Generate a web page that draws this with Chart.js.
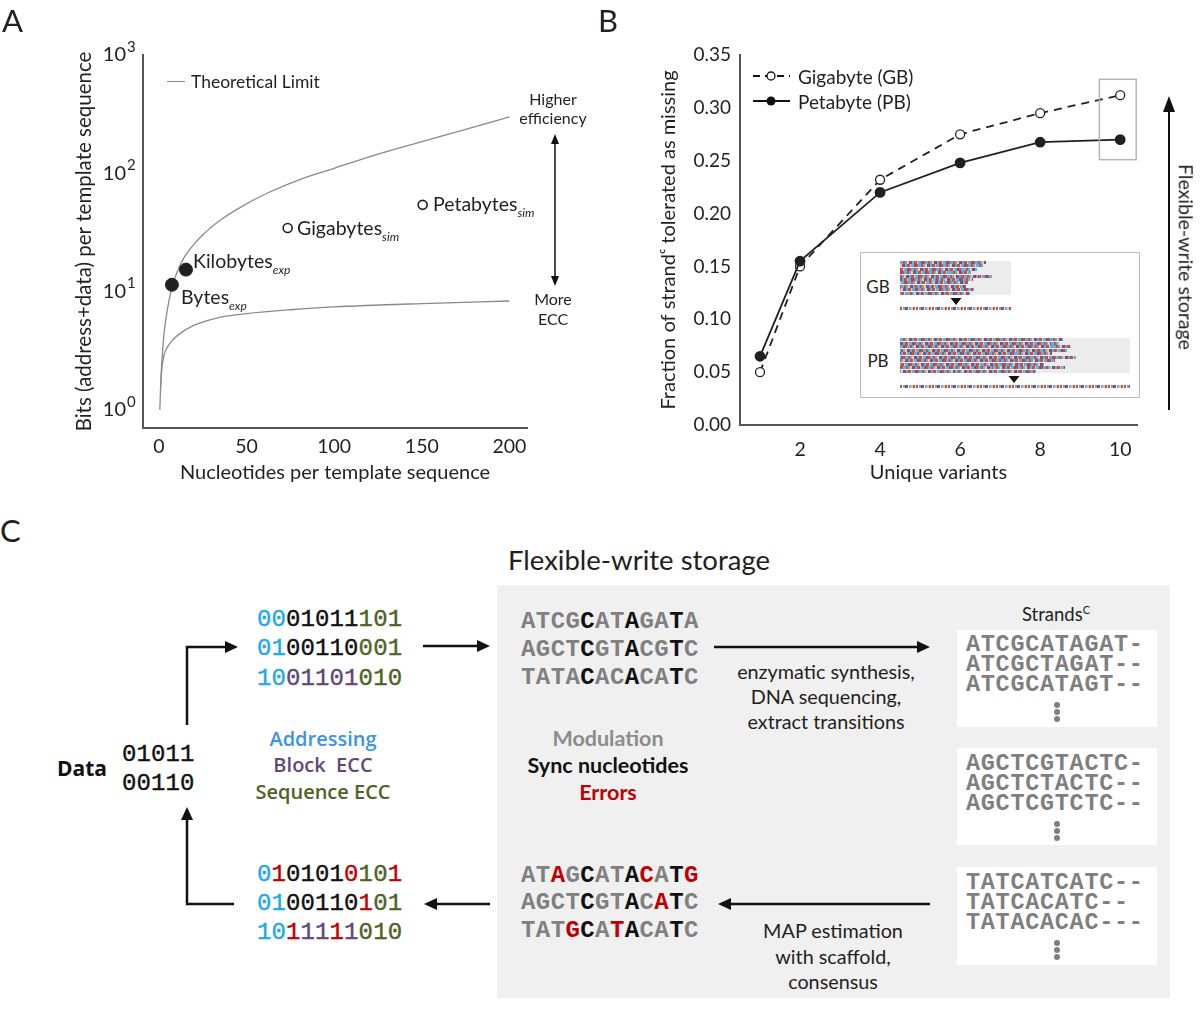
<!DOCTYPE html>
<html><head><meta charset="utf-8">
<script src="https://cdn.jsdelivr.net/npm/chart.js@4/dist/chart.umd.min.js"></script>
<style>
body{margin:0;background:#fff;}
#root{position:relative;width:1200px;height:1019px;overflow:hidden;font-family:Lato,"Open Sans",sans-serif;color:#231f20;}
.t{position:absolute;white-space:nowrap;line-height:1;}
.c{transform:translate(-50%,-50%);}
.l{transform:translate(0,-50%);}
sub{font-style:italic;font-size:12px;vertical-align:-6px;line-height:0;}
.cv{position:absolute;}
</style></head>
<body><div id="root">
<div class="cv" style="left:0;top:0"><canvas id="cA" width="600" height="500" style="width:600px;height:500px"></canvas></div>
<div class="cv" style="left:600px;top:0"><canvas id="cB" width="600" height="500" style="width:600px;height:500px"></canvas></div>
</div>
<script>
// ---------- Panel A data ----------
const upperN    = [0.6, 1, 1.5, 2, 3, 4, 6, 8, 10, 12, 15, 20, 25, 29, 35, 45, 62, 80, 100, 125, 150, 175, 200];
const upperBits = [1.0, 1.5, 2.2, 2.9, 4.4, 5.8, 8.6, 11.5, 14, 16.5, 20, 25, 30, 34, 40, 50, 68, 88, 110, 145, 185, 235, 300];
const lowerN    = [1, 1.5, 2, 3, 5, 8, 12, 18, 25, 36, 50, 75, 100, 150, 200];
const lowerBits = [1.5, 2.0, 2.4, 2.9, 3.4, 3.9, 4.4, 5.0, 5.5, 6.1, 6.5, 7.0, 7.4, 7.9, 8.3];
const expNames = ['Bytes', 'Kilobytes'];
const expN     = [7.5, 15.5];
const expBits  = [11.4, 15.3];
const simNames = ['Gigabytes', 'Petabytes'];
const simN     = [73.5, 150.5];
const simBits  = [34.4, 54];
const xTicksA = [0, 50, 100, 150, 200];
const yTicksA = [1, 10, 100, 1000];

// ---------- Panel B data ----------
const variants   = [1, 2, 4, 6, 8, 10];
const gbFraction = [0.050, 0.150, 0.232, 0.275, 0.295, 0.312];
const pbFraction = [0.065, 0.155, 0.220, 0.248, 0.2675, 0.270];
const xTicksB = [2, 4, 6, 8, 10];
const yTicksB = [0, 0.05, 0.10, 0.15, 0.20, 0.25, 0.30, 0.35];

Chart.defaults.font.family = 'Lato';
Chart.defaults.color = '#231f20';
const INK = '#231f20', AX = '#555';

const pts = (xs, ys) => xs.map((x, i) => ({x, y: ys[i]}));

const expPlugin = {id: 'exp', afterDraw(chart) {
  const s = chart.scales.y, ctx = chart.ctx;
  ctx.save(); ctx.font = '15px Lato'; ctx.fillStyle = INK; ctx.textAlign = 'left'; ctx.textBaseline = 'middle';
  s.ticks.forEach(t => ctx.fillText(String(Math.round(Math.log10(t.value))), s.right - s.options.ticks.padding + 1, s.getPixelForValue(t.value) - 8));
  ctx.restore();
}};

new Chart(document.getElementById('cA'), {
  type: 'scatter',
  data: {datasets: [
    {data: pts(expN, expBits), pointRadius: 6.5, pointBackgroundColor: INK, pointBorderColor: INK, showLine: false},
    {data: pts(simN, simBits), pointRadius: 4.5, pointBackgroundColor: '#fff', pointBorderColor: INK, pointBorderWidth: 1.6, showLine: false},
    {data: pts(upperN, upperBits), showLine: true, borderColor: '#8a8a8a', borderWidth: 1.3, pointRadius: 0, cubicInterpolationMode: 'monotone'},
    {data: pts(lowerN, lowerBits), showLine: true, borderColor: '#8a8a8a', borderWidth: 1.3, pointRadius: 0, cubicInterpolationMode: 'monotone'}
  ]},
  options: {
    responsive: false, animation: false, events: [],
    layout: {padding: {left: 72, top: 55, right: 73, bottom: 15}},
    plugins: {legend: {display: false}, tooltip: {enabled: false}},
    scales: {
      x: {type: 'linear', min: -9, max: 210,
        grid: {display: false, drawTicks: false}, border: {display: true, color: AX, width: 2},
        ticks: {padding: 7, color: INK, font: {size: 19.5}},
        afterBuildTicks: s => { s.ticks = xTicksA.map(v => ({value: v})); },
        afterFit: s => { s.height = 57; },
        title: {display: true, text: 'Nucleotides per template sequence', font: {size: 20}, color: INK, padding: 0}},
      y: {type: 'logarithmic', min: 0.736, max: 1000,
        grid: {display: false, drawTicks: false}, border: {display: true, color: AX, width: 2},
        ticks: {padding: 17, color: INK, font: {size: 20}, callback: () => '10'},
        afterBuildTicks: s => { s.ticks = yTicksA.map(v => ({value: v})); },
        afterFit: s => { s.width = 71; },
        title: {display: true, text: 'Bits (address+data) per template sequence', font: {size: 20.5}, color: INK, padding: 0}}
    }
  },
  plugins: [expPlugin]
});

const boxPlugin = {id: 'box', afterDatasetsDraw(chart) {
  const x = chart.scales.x, y = chart.scales.y, ctx = chart.ctx;
  ctx.save(); ctx.strokeStyle = '#b5b5b5'; ctx.lineWidth = 1.5;
  const x0 = x.getPixelForValue(9.48), x1 = x.getPixelForValue(10.4), y0 = y.getPixelForValue(0.327), y1 = y.getPixelForValue(0.251);
  ctx.strokeRect(x0, y0, x1 - x0, y1 - y0);
  ctx.restore();
}};

new Chart(document.getElementById('cB'), {
  type: 'line',
  data: {datasets: [
    {label: 'Petabyte (PB)', data: pts(variants, pbFraction), borderColor: INK, borderWidth: 1.8, pointRadius: 4.5, pointBackgroundColor: INK, pointBorderColor: INK, tension: 0},
    {label: 'Gigabyte (GB)', data: pts(variants, gbFraction), borderColor: INK, borderWidth: 1.8, borderDash: [8, 6], pointRadius: 4.5, pointBackgroundColor: '#fff', pointBorderColor: INK, pointBorderWidth: 1.3, tension: 0}
  ]},
  options: {
    responsive: false, animation: false, events: [],
    layout: {padding: {left: 57, top: 55, right: 63, bottom: 15}},
    plugins: {legend: {display: false}, tooltip: {enabled: false}},
    scales: {
      x: {type: 'linear', min: 0.5, max: 10.42,
        grid: {display: false, drawTicks: false}, border: {display: true, color: AX, width: 2},
        ticks: {padding: 13, color: INK, font: {size: 19.5}},
        afterBuildTicks: s => { s.ticks = xTicksB.map(v => ({value: v})); },
        afterFit: s => { s.height = 60; },
        title: {display: true, text: 'Unique variants', font: {size: 20}, color: INK, padding: 0}},
      y: {type: 'linear', min: 0, max: 0.35,
        grid: {display: false, drawTicks: false}, border: {display: true, color: AX, width: 2},
        ticks: {padding: 9, color: INK, font: {size: 19}, callback: v => v.toFixed(2)},
        afterBuildTicks: s => { s.ticks = yTicksB.map(v => ({value: v})); },
        afterFit: s => { s.width = 83; },
        title: {display: true, text: 'Fraction of strand\u1D9C tolerated as missing', font: {size: 20}, color: INK, padding: 0}}
    }
  },
  plugins: [boxPlugin]
});

// ---------- HTML overlays ----------
const root = document.getElementById('root');
function T(x, y, html, style, anchor) {
  const d = document.createElement('div');
  d.className = 't ' + (anchor || 'c');
  d.style.left = x + 'px'; d.style.top = y + 'px';
  d.style.cssText += style || '';
  d.innerHTML = html; root.appendChild(d); return d;
}
function D(x, y, w, h, style) {
  const d = document.createElement('div');
  d.style.cssText = `position:absolute;left:${x}px;top:${y}px;width:${w}px;height:${h}px;` + (style || '');
  root.appendChild(d); return d;
}
const COL = {c: '#1eaae4', k: '#111', o: '#4f6228', p: '#5f497a', r: '#c00000', g: '#808080'};
function seq(str, mask) {
  let s = '';
  for (let i = 0; i < str.length; i++) s += `<span style="color:${COL[mask[i]]}">${str[i]}</span>`;
  return s;
}

// Panel letters
T(2, 20, 'A', 'font-size:31px;', 'l');
T(598, 20, 'B', 'font-size:31px;', 'l');
T(0, 530, 'C', 'font-size:31px;', 'l');

// Panel A annotations
D(167, 81, 18, 1.3, 'background:#8a8a8a;');
T(191, 82, 'Theoretical Limit', 'font-size:17.5px;', 'l');
T(193, 261, 'Kilobytes<sub>exp</sub>', 'font-size:19.5px;', 'l');
T(181, 297, 'Bytes<sub>exp</sub>', 'font-size:19.5px;', 'l');
T(297, 228, 'Gigabytes<sub>sim</sub>', 'font-size:19.5px;', 'l');
T(433, 204, 'Petabytes<sub>sim</sub>', 'font-size:19.5px;', 'l');
T(553, 99, 'Higher', 'font-size:16px;');
T(553, 118, 'efficiency', 'font-size:16px;');
T(553, 299, 'More', 'font-size:16px;');
T(553, 319, 'ECC', 'font-size:16px;');

// Panel B legend
T(798, 76, 'Gigabyte (GB)', 'font-size:19px;', 'l');
T(798, 101, 'Petabyte (PB)', 'font-size:19px;', 'l');
T(1186, 257, 'Flexible-write storage', 'font-size:19.5px;transform:translate(-50%,-50%) rotate(90deg);', 'c');

// Panel B inset
D(860, 252, 280, 146, 'border:1.5px solid #bdbdbd;background:#fff;box-sizing:border-box;');
T(878, 286, 'GB', 'font-size:17px;');
T(878, 360, 'PB', 'font-size:17px;');
const stripe = 'repeating-linear-gradient(90deg,#5cb3e3 0 3px,#d64a3e 3px 5px,#5cb3e3 5px 7px,#e8cba3 7px 9px,#8a4c77 9px 12px,#5cb3e3 12px 14px,#d64a3e 14px 17px,#e8cba3 17px 18px,#5cb3e3 18px 21px,#8a4c77 21px 23px,#d64a3e 23px 25px)';
const cons = 'repeating-linear-gradient(90deg,#d64a3e 0 2px,#fff 2px 3px,#5cb3e3 3px 5px,#8a4c77 5px 8px,#fff 8px 9px,#5cb3e3 9px 11px,#e8cba3 11px 13px,#d64a3e 13px 15px,#fff 15px 16px)';
const gbRowEnds = [86, 83, 77, 71, 92, 73, 68, 66, 74, 70];
const pbRowEnds = [163, 160, 171, 167, 152, 176, 155, 144, 165, 136];
D(900, 261, 111, 34, 'background:#ececec;');
gbRowEnds.forEach((w, i) => D(900, 261 + i * 3.4, w, 3, `background:${stripe};background-position:${-i * 7}px 0;`));
D(900, 338, 230, 35, 'background:#ececec;');
pbRowEnds.forEach((w, i) => D(900, 338 + i * 3.5, w, 3, `background:${stripe};background-position:${-i * 9}px 0;`));
D(900, 307, 111, 3, `background:${cons};`);
D(900, 385, 230, 3, `background:${cons};`);

// Panel C
T(639, 560, 'Flexible-write storage', 'font-size:27.5px;');
D(497, 585, 673, 413, 'background:#f0f0f0;');
D(957, 630, 200, 97, 'background:#fff;');
D(957, 748, 200, 97, 'background:#fff;');
D(957, 867, 200, 98, 'background:#fff;');

const BIN = 'font-family:"Liberation Mono",monospace;font-size:24px;letter-spacing:0.1px;-webkit-text-stroke:0.4px currentColor;';
T(257, 620, seq('0001011101', 'cckkkkkooo'), BIN, 'l');
T(257, 649, seq('0100110001', 'cckkkkkooo'), BIN, 'l');
T(257, 679, seq('1001101010', 'ccpppppooo'), BIN, 'l');
T(257, 875, seq('0101010101', 'crkkkkroor'), BIN, 'l');
T(257, 904, seq('0100110101', 'cckkkkkroo'), BIN, 'l');
T(257, 933, seq('1011111010', 'ccrpprpooo'), BIN, 'l');
T(122, 755, '01011', BIN + 'color:#111;', 'l');
T(122, 784, '00110', BIN + 'color:#111;', 'l');
T(82, 768, 'Data', 'font-family:"Open Sans";font-weight:700;font-size:21px;color:#111;');

T(323, 739, 'Addressing', 'font-family:"Open Sans";font-weight:600;font-size:20px;color:#3b93e6;');
T(323, 765, 'Block&nbsp; ECC', 'font-family:"Open Sans";font-weight:600;font-size:20px;color:#5f497a;');
T(323, 792, 'Sequence ECC', 'font-family:"Open Sans";font-weight:600;font-size:20px;color:#4f6228;');

const DNA = 'font-family:"Liberation Mono",monospace;font-weight:700;font-size:24px;letter-spacing:0.4px;';
T(521, 622, seq('ATCGCATAGATA', 'ggggkggkggkg'), DNA, 'l');
T(521, 650, seq('AGCTCGTACGTC', 'ggggkggkggkg'), DNA, 'l');
T(521, 678, seq('TATACACACATC', 'ggggkggkggkg'), DNA, 'l');
T(521, 876, seq('ATAGCATACATG', 'ggrgkggkrgkr'), DNA, 'l');
T(521, 903, seq('AGCTCGTACATC', 'ggggkggkgrkg'), DNA, 'l');
T(521, 931, seq('TATGCATACATC', 'gggrkgrkggkg'), DNA, 'l');

T(608, 739, 'Modulation', 'font-weight:700;font-size:21.5px;color:#8c8c8c;');
T(608, 766, 'Sync nucleotides', 'font-weight:700;font-size:21.5px;color:#111;');
T(608, 793, 'Errors', 'font-weight:700;font-size:21.5px;color:#c00000;');

T(826, 672, 'enzymatic synthesis,', 'font-size:19.8px;');
T(826, 697, 'DNA sequencing,', 'font-size:19.8px;');
T(826, 722, 'extract transitions', 'font-size:19.8px;');
T(833, 931, 'MAP estimation', 'font-size:19.8px;');
T(833, 957, 'with scaffold,', 'font-size:19.8px;');
T(833, 982, 'consensus', 'font-size:19.8px;');

T(1056, 614, 'Strands<sup style="font-size:11px;vertical-align:7px;line-height:0">C</sup>', 'font-size:18.5px;');
const STR = 'font-family:"Liberation Mono",monospace;font-weight:700;font-size:23.5px;letter-spacing:0.7px;color:#7f7f7f;';
const strands = [
  ['ATCGCATAGAT-', 'ATCGCTAGAT--', 'ATCGCATAGT--'],
  ['AGCTCGTACTC-', 'AGCTCTACTC--', 'AGCTCGTCTC--'],
  ['TATCATCATC--', 'TATCACATC--', 'TATACACAC---']
];
const boxTops = [645, 764, 883];
strands.forEach((g, b) => {
  g.forEach((s, i) => T(966, boxTops[b] + i * 20, s, STR, 'l'));
  for (let k = 0; k < 3; k++) D(1054, boxTops[b] + 57 + k * 7, 6, 6, 'background:#7f7f7f;border-radius:50%;');
});

// Arrows / inset triangles (SVG on top)
const NS = 'http://www.w3.org/2000/svg';
const svg = document.createElementNS(NS, 'svg');
svg.setAttribute('width', '1200'); svg.setAttribute('height', '1019');
svg.style.cssText = 'position:absolute;left:0;top:0;pointer-events:none;z-index:10;';
function line(pts, w) { return `<polyline points="${pts}" fill="none" stroke="#111" stroke-width="${w}"/>`; }
function head(tx, ty, dir, L, W) {
  let p;
  if (dir === 'r') p = `${tx},${ty} ${tx - L},${ty - W} ${tx - L},${ty + W}`;
  if (dir === 'l') p = `${tx},${ty} ${tx + L},${ty - W} ${tx + L},${ty + W}`;
  if (dir === 'u') p = `${tx},${ty} ${tx - W},${ty + L} ${tx + W},${ty + L}`;
  if (dir === 'd') p = `${tx},${ty} ${tx - W},${ty - L} ${tx + W},${ty - L}`;
  return `<polygon points="${p}" fill="#111"/>`;
}
let s = '';
s += line('555,142 555,278', 1.5) + head(555, 134, 'u', 10, 4) + head(555, 286, 'd', 10, 4);
s += `<line x1="753" y1="76" x2="790" y2="76" stroke="#111" stroke-width="1.8" stroke-dasharray="7,5"/><circle cx="771" cy="76" r="4" fill="#fff" stroke="#111" stroke-width="1.3"/>`;
s += `<line x1="753" y1="101" x2="790" y2="101" stroke="#111" stroke-width="1.8"/><circle cx="771" cy="101" r="4.5" fill="#111"/>`;
s += line('1169,410 1169,110', 2) + head(1169, 96, 'u', 16, 6);
s += head(956, 305, 'd', 7, 5.5) + head(1014, 383, 'd', 7, 5.5);
s += line('187,725 187,647 226,647', 2.5) + head(238, 647, 'r', 13, 6);
s += line('234,904 187,904 187,819', 2.5) + head(187, 807, 'u', 13, 6);
s += line('423,646 478,646', 2.5) + head(490, 646, 'r', 13, 6);
s += line('490,904 436,904', 2.5) + head(424, 904, 'l', 13, 6);
s += line('714,647 918,647', 2.5) + head(930, 647, 'r', 13, 6);
s += line('930,904 731,904', 2.5) + head(718, 904, 'l', 13, 6);
svg.innerHTML = s;
root.appendChild(svg);
</script>
</body></html>
